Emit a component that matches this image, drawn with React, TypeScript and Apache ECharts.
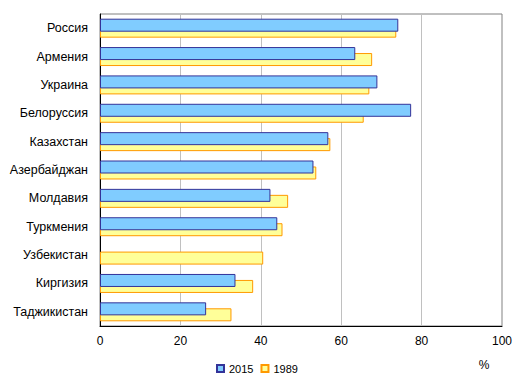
import React, { useEffect, useRef } from "react";
import * as echarts from "echarts";

const categories = [
  "Россия",
  "Армения",
  "Украина",
  "Белоруссия",
  "Казахстан",
  "Азербайджан",
  "Молдавия",
  "Туркмения",
  "Узбекистан",
  "Киргизия",
  "Таджикистан",
];
const values2015: (number | null)[] = [74.2, 63.5, 69.0, 77.4, 56.8, 53.1, 42.4, 44.1, null, 33.7, 26.4];
const values1989: number[] = [73.7, 67.7, 67.0, 65.6, 57.3, 53.8, 46.8, 45.4, 40.6, 38.1, 32.7];
const xTicks = { min: 0, max: 100, interval: 20 };
const unitLabel = "%";

const FONT = "'Liberation Sans', Arial, sans-serif";

export default function App() {
  const ref = useRef<HTMLDivElement>(null);
  useEffect(() => {
    if (!ref.current) return;
    const chart = echarts.init(ref.current, undefined, { renderer: "svg" });
    chart.setOption({
      animation: false,
      backgroundColor: "#ffffff",
      textStyle: { fontFamily: FONT },
      grid: {
        left: 100,
        right: 23,
        top: 14,
        bottom: 65,
        show: true,
        borderColor: "#808080",
        borderWidth: 1,
        backgroundColor: "transparent",
      },
      legend: {
        left: 211,
        top: 358,
        icon: "rect",
        itemWidth: 7,
        itemHeight: 7,
        itemGap: 7,
        textStyle: { fontFamily: FONT, fontSize: 11, color: "#000" },
        data: ["2015", "1989"],
      },
      graphic: [
        {
          type: "text",
          x: 484,
          y: 365,
          style: {
            text: unitLabel,
            font: `12px ${FONT}`,
            fill: "#000",
            textAlign: "center",
            textVerticalAlign: "middle",
          },
        },
      ],
      xAxis: {
        type: "value",
        min: xTicks.min,
        max: xTicks.max,
        interval: xTicks.interval,
        axisLine: { show: true, lineStyle: { color: "#000", width: 1 } },
        axisTick: { show: false },
        axisLabel: { color: "#000", fontSize: 12, fontFamily: FONT, margin: 9 },
        splitLine: { show: true, lineStyle: { color: "#C0C0C0", width: 1 } },
      },
      yAxis: {
        type: "category",
        data: categories,
        inverse: true,
        axisLine: { show: true, lineStyle: { color: "#000", width: 1 } },
        axisTick: { show: false },
        axisLabel: { color: "#000", fontSize: 12.5, fontFamily: FONT, margin: 12 },
        splitLine: { show: false },
      },
      series: [
        {
          name: "2015",
          type: "bar",
          data: values2015,
          barWidth: 13,
          barGap: "-54%",
          z: 3,
          itemStyle: { color: "#80CCFF", borderColor: "#333399", borderWidth: 1 },
        },
        {
          name: "1989",
          type: "bar",
          data: values1989,
          barWidth: 13,
          barGap: "-54%",
          z: 2,
          itemStyle: { color: "#FFFF99", borderColor: "#FF9900", borderWidth: 1 },
        },
      ],
    });
    return () => chart.dispose();
  }, []);
  return (
    <div
      ref={ref}
      style={{ position: "absolute", left: 0, top: 0, width: 525, height: 391 }}
    />
  );
}
